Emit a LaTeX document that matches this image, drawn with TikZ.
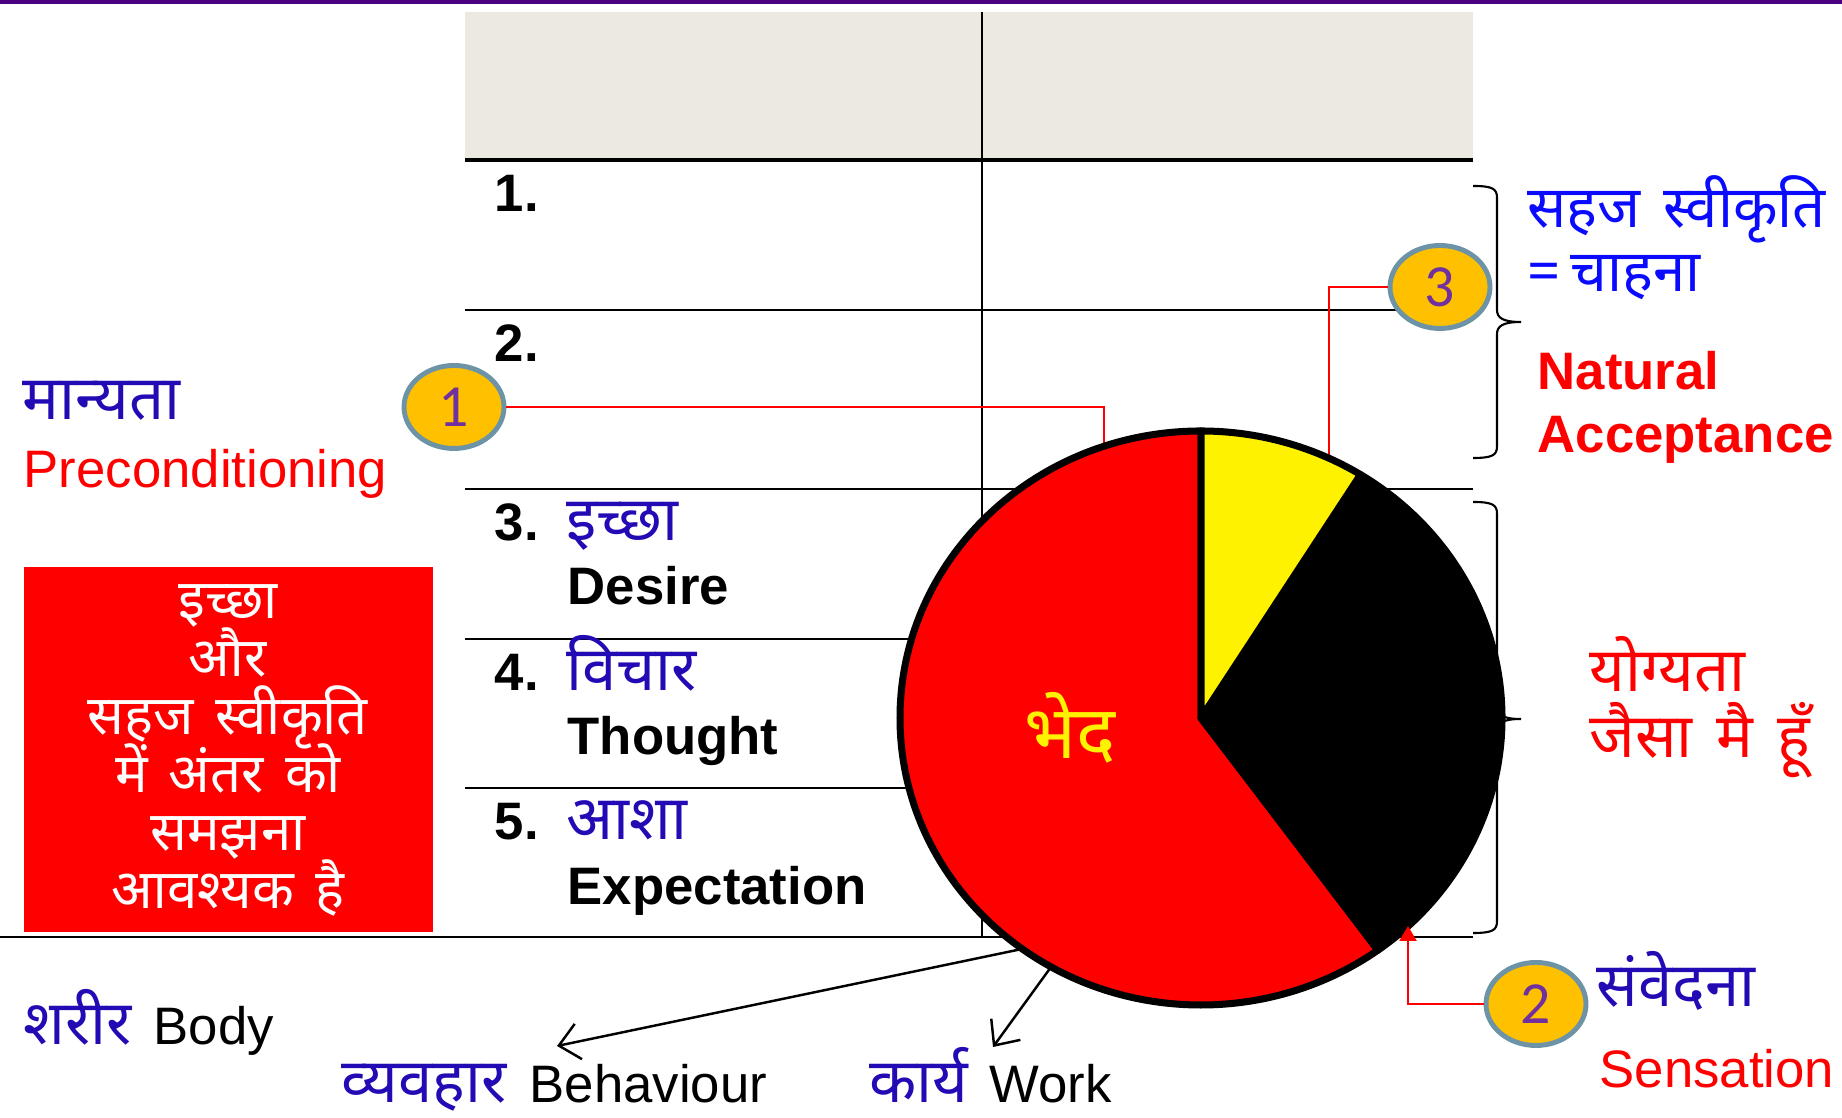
\documentclass[tikz,border=0pt]{standalone}
\usepackage{fontspec}
\setmainfont{Liberation Sans}
\newfontfamily\hindi[Script=Devanagari,WordSpace=1.5]{Noto Sans}
\newfontfamily\numfont{Carlito}
\usetikzlibrary{shapes.geometric,arrows.meta,positioning}
\setlength{\lineskiplimit}{-50pt}

\definecolor{hindiblue}{RGB}{34,10,180}
\definecolor{brightblue}{RGB}{10,10,255}
\definecolor{headgray}{RGB}{236,234,224}
\definecolor{badgefill}{RGB}{255,192,0}
\definecolor{badgeline}{RGB}{108,147,166}
\definecolor{badgetext}{RGB}{112,48,160}
\definecolor{topbar}{RGB}{75,0,130}

\begin{document}
\begin{tikzpicture}
[font=\fontsize{15}{18}\selectfont, inner sep=0pt]

\tikzstyle{badge}=[ellipse, draw=badgeline, line width=1.4pt, fill=badgefill, minimum width=1.0cm, minimum height=0.83cm, font=\numfont\fontsize{17}{18}\selectfont, text=badgetext]
\tikzstyle{rowline}=[line width=0.75pt]
\tikzstyle{num}=[anchor=base west, font=\bfseries\fontsize{15}{18}\selectfont]
\tikzstyle{hin}=[anchor=base west, text=hindiblue, font=\hindi\fontsize{17.5}{20}\selectfont]
\tikzstyle{eng}=[anchor=base west, font=\bfseries\fontsize{15}{18}\selectfont]
\tikzstyle{redhin}=[anchor=base west, text=red, font=\hindi\fontsize{17.5}{20}\selectfont]
\tikzstyle{link}=[red, line width=0.6pt]
\tikzstyle{outarrow}=[-{Straight Barb[length=2mm,width=3.6mm]}, line width=0.7pt]
\tikzstyle{wedge}=[draw=black, line width=2pt, line join=round]
\tikzstyle{bracket}=[line width=0.6pt]

\useasboundingbox (0,0) rectangle (18.42,11.18);

% top bar and table
\fill[topbar] (0,11.14) rectangle (18.42,11.18);
\fill[headgray] (4.65,9.58) rectangle (14.73,11.06);
\draw[line width=0.6pt] (9.82,11.06) -- (9.82,1.81);
\draw[line width=1.3pt] (4.65,9.58) -- (14.73,9.58);
\foreach \y in {8.08,6.29,4.79,3.30}
  \draw[rowline] (4.65,\y) -- (14.73,\y);
\draw[rowline] (0,1.81) -- (14.73,1.81);

% rows
\node[num] (n1) at (4.94,9.06) {1.};
\node[num] (n2) at (4.94,7.56) {2.};
\node[num] (n3) at (4.94,5.77) {3.};
\node[num] (n4) at (4.94,4.27) {4.};
\node[num] (n5) at (4.94,2.78) {5.};
\node[hin] (ichha) at (5.66,5.77) {इच्छा};
\node[eng] (desire) at (5.67,5.13) {Desire};
\node[hin] (vichar) at (5.66,4.27) {विचार};
\node[eng] (thought) at (5.67,3.63) {Thought};
\node[hin] (asha) at (5.66,2.78) {आशा};
\node[eng] (expect) at (5.67,2.13) {Expectation};

% left side
\node[hin] (manyata) at (0.22,6.98) {मान्यता};
\node[anchor=base west, text=red] (precond) at (0.23,6.30) {Preconditioning};
\fill[red] (0.24,1.86) rectangle (4.33,5.51);
\node[align=center, text=white, font=\hindi\fontsize{15.5}{16.5}\selectfont] (note) at (2.28,3.68)
  {इच्छा\\और\\सहज स्वीकृति\\में अंतर को\\समझना\\आवश्यक है};

% pie edge points
\coordinate (pc) at (12.01,4.00);
\coordinate (p1) at (11.04,6.72);
\coordinate (p3) at (13.29,6.60);
\coordinate (p2) at (14.08,1.92);
\coordinate (pb) at (10.22,1.69);
\coordinate (pw) at (10.51,1.51);
\coordinate (tb) at (5.57,0.72);
\coordinate (tw) at (9.93,0.71);

% badges
\node[badge] (c1) at (4.54,7.11) {1};
\node[badge] (c3) at (14.40,8.31) {3};
\node[badge] (c2) at (15.36,1.14) {2};

\draw[link] (c1.east) -| (p1);
\draw[link] (c3.west) -| (p3);

% pie
\filldraw[wedge, fill=red] (pc) -- ++(90:3.01 and 2.87) arc[start angle=90, end angle=306, x radius=3.01, y radius=2.87] -- cycle;
\filldraw[wedge, fill=black] (pc) -- ++(-54:3.01 and 2.87) arc[start angle=-54, end angle=58, x radius=3.01, y radius=2.87] -- cycle;
\filldraw[wedge, fill=yellow] (pc) -- ++(58:3.01 and 2.87) arc[start angle=58, end angle=90, x radius=3.01, y radius=2.87] -- cycle;
\node[text=yellow, font=\hindi\fontsize{21}{22}\selectfont] (bhed) at (10.70,3.90) {भेद};

\draw[link, -{Triangle[length=1.5mm,width=1.7mm]}] (c2.west) -| (p2);
\draw[outarrow] (pb) -- (tb);
\draw[outarrow] (pw) -- (tw);

% braces
\draw[bracket] (14.73,9.32) .. controls (14.93,9.32) and (14.97,9.29) .. (14.97,9.20) -- (14.97,8.08)
  .. controls (14.97,8.00) and (15.03,7.96) .. (15.21,7.96)
  .. controls (15.03,7.96) and (14.97,7.92) .. (14.97,7.84) -- (14.97,6.72)
  .. controls (14.97,6.63) and (14.93,6.60) .. (14.73,6.60);
\draw[bracket] (14.73,6.16) .. controls (14.93,6.16) and (14.97,6.13) .. (14.97,6.04) -- (14.97,4.11)
  .. controls (14.97,4.03) and (15.03,3.99) .. (15.21,3.99)
  .. controls (15.03,3.99) and (14.97,3.95) .. (14.97,3.87) -- (14.97,1.97)
  .. controls (14.97,1.88) and (14.93,1.85) .. (14.73,1.85);

% right side
\node[anchor=base west, text=brightblue, font=\hindi\fontsize{16.5}{20}\selectfont] (sahaj) at (15.27,8.90) {सहज स्वीकृति};
\node[anchor=base west, text=brightblue, font=\hindi\fontsize{16.5}{20}\selectfont] (chahna) at (15.27,8.26) {\textbf{=}\,चाहना};
\node[eng, text=red] (natural) at (15.37,7.28) {Natural};
\node[eng, text=red] (accept) at (15.37,6.65) {Acceptance};
\node[redhin] (yogyata) at (15.89,4.26) {योग्यता};
\node[redhin] (jaisa) at (15.89,3.60) {जैसा मै हूँ};
\node[hin] (samvedna) at (15.96,1.11) {संवेदना};
\node[anchor=base west, text=red] (sensation) at (15.99,0.30) {Sensation};

% bottom
\node[hin] (sharir) at (0.23,0.73) {शरीर};
\node[anchor=base west] (body) at (1.53,0.73) {Body};
\node[hin] (vyavhar) at (3.41,0.15) {व्यवहार};
\node[anchor=base west] (behav) at (5.29,0.15) {Behaviour};
\node[hin] (karya) at (8.69,0.15) {कार्य};
\node[anchor=base west] (work) at (9.89,0.15) {Work};
\end{tikzpicture}
\end{document}
